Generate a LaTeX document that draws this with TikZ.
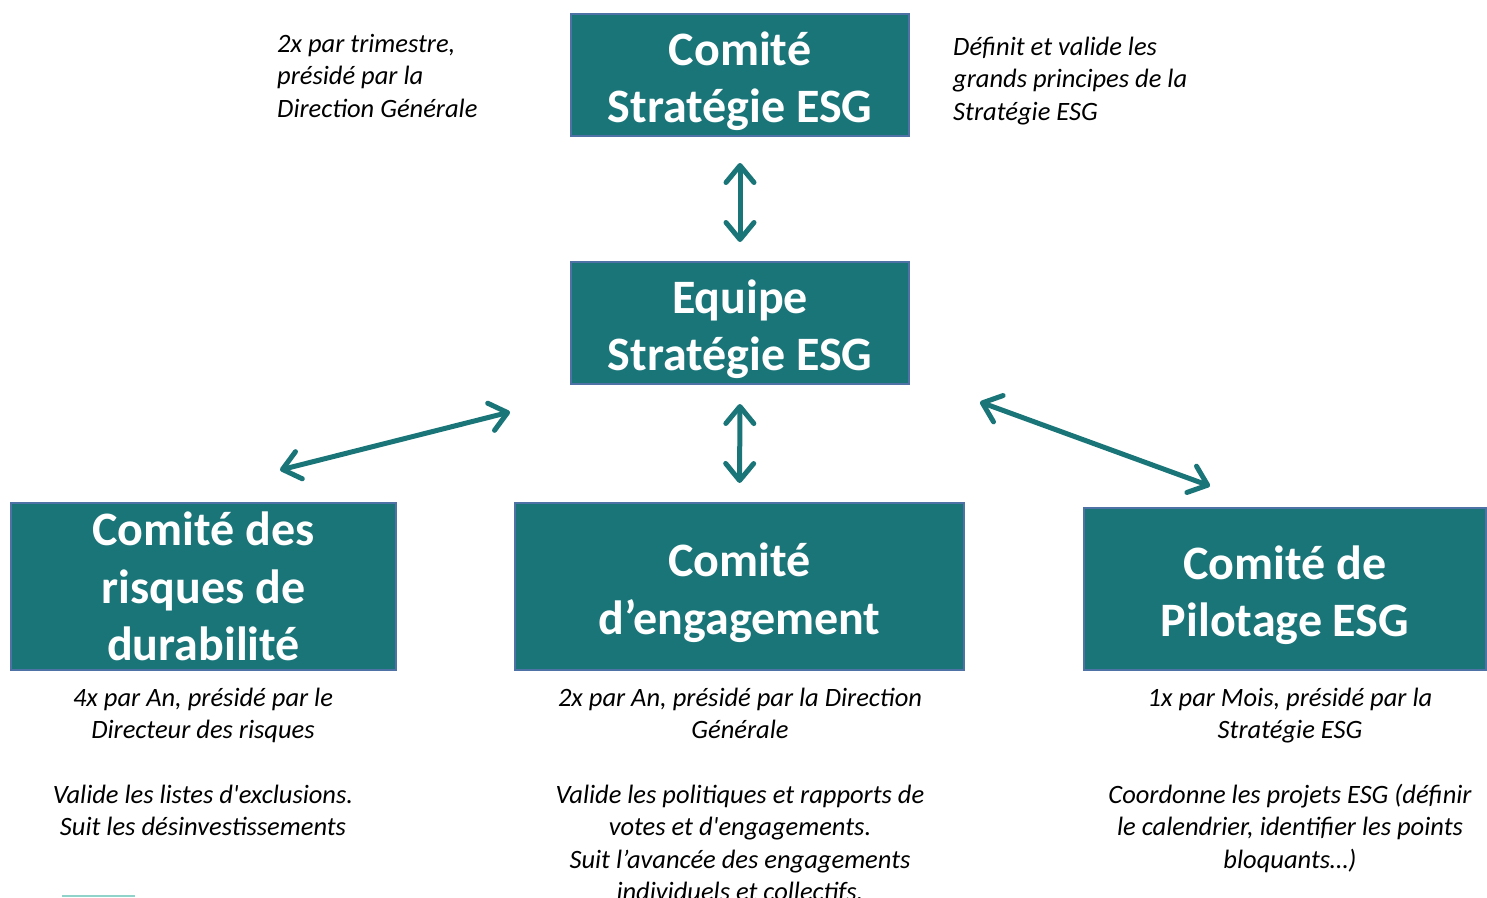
\documentclass[tikz,border=0pt]{standalone}
\usepackage{fontspec}
\setmainfont{Carlito}[Ligatures=TeXOff]
\usetikzlibrary{arrows.meta}
\definecolor{esgteal}{HTML}{1A7579}
\definecolor{esgedge}{HTML}{4F72A6}
\definecolor{esglight}{HTML}{8FD3CB}
\newcommand\esgstrut{\rule{0pt}{46pt}}
\begin{document}
\begin{tikzpicture}[x=1pt,y=-1pt,
  comite/.style={draw=esgedge,line width=2pt,fill=esgteal,text=white,inner sep=0pt,
    align=center,font=\fontsize{48}{57.5}\selectfont\bfseries},
  note/.style={inner sep=0pt,font=\fontsize{26.5}{32.3}\selectfont\itshape},
  link/.style={draw=esgteal,line width=5pt,
    {Straight Barb[length=17pt,width=28pt,round]}-{Straight Barb[length=17pt,width=28pt,round]}}]
\useasboundingbox (0,0) rectangle (1487,897);
% comites
\node[comite,minimum width=338,minimum height=122] (strat) at (740,75) {\esgstrut Comité\\Stratégie ESG};
\node[comite,minimum width=338,minimum height=122] (equipe) at (740,323) {\esgstrut Equipe\\Stratégie ESG};
\node[comite,minimum width=385,minimum height=167] (risques) at (203.5,586.5) {Comité des\\risques de\\durabilité};
\node[comite,minimum width=449,minimum height=167] (engage) at (739.5,586.5) {\esgstrut Comité\\d’engagement};
\node[comite,minimum width=402,minimum height=162] (pilot) at (1285,589) {\esgstrut Comité de\\Pilotage ESG};
% liens
\coordinate (risquesA) at (280,470);
\coordinate (risquesB) at (510,412);
\coordinate (pilotA) at (980,402);
\coordinate (pilotB) at (1210,486);
\draw[link,shorten <=26pt,shorten >=19pt] (strat.south) -- (equipe.north);
\draw[link,shorten <=19pt,shorten >=19pt] (equipe.south) -- (engage.north);
\draw[link] (risquesA) -- (risquesB);
\draw[link] (pilotA) -- (pilotB);
% notes
\node[note,anchor=north west,align=left] (stratfreq) at (277,34) {2x par trimestre,\\présidé par la\\Direction Générale};
\node[note,anchor=north west,align=left] (stratrole) at (953,37) {Définit et valide les\\grands principes de la\\Stratégie ESG};
\node[note,anchor=north,align=center] (risquesnote) at (203,688) {4x par An, présidé par le\\Directeur des risques\\[32.3pt]Valide les listes d'exclusions.\\Suit les désinvestissements};
\node[note,anchor=north,align=center] (engagenote) at (740,688) {2x par An, présidé par la Direction\\Générale\\[32.3pt]Valide les politiques et rapports de\\votes et d'engagements.\\Suit l’avancée des engagements\\individuels et collectifs.};
\node[note,anchor=north,align=center] (pilotnote) at (1290,688) {1x par Mois, présidé par la\\Stratégie ESG\\[32.3pt]Coordonne les projets ESG (définir\\le calendrier, identifier les points\\bloquants…)};
\draw[color=esglight,line width=2pt] (62,896) -- (135,896);
\end{tikzpicture}
\end{document}
